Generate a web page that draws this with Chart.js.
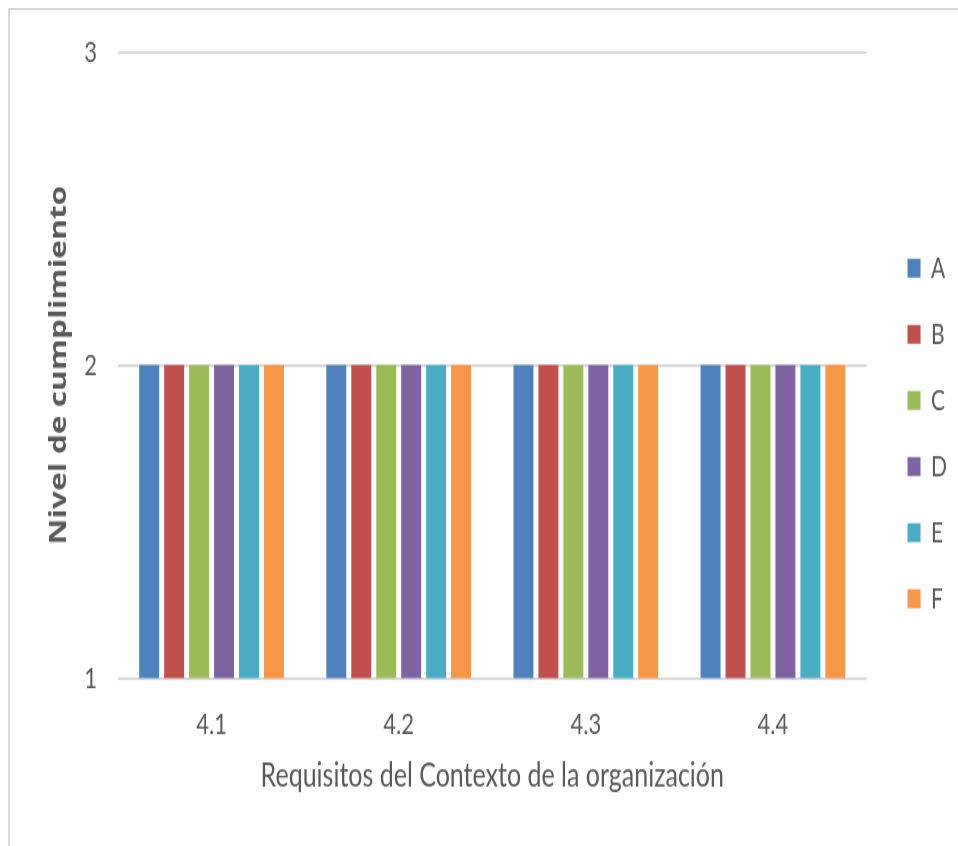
<!DOCTYPE html>
<html><head><meta charset="utf-8">
<script src="https://cdn.jsdelivr.net/npm/chart.js@4/dist/chart.umd.min.js"></script>
<style>
html,body{margin:0;padding:0;background:#fff;overflow:hidden}
#frame{position:absolute;left:8px;top:8px;width:1000px;height:900px;border-left:2px solid #d9d9d9;border-top:2px solid #d9d9d9}
</style></head><body>
<div id="frame"></div>
<canvas id="c" width="958" height="627" style="position:absolute;left:0;top:0;width:958px;height:846px"></canvas>
<script>
const categories = ['4.1', '4.2', '4.3', '4.4'];
const seriesNames = ['A', 'B', 'C', 'D', 'E', 'F'];
const seriesA = [2, 2, 2, 2];
const seriesB = [2, 2, 2, 2];
const seriesC = [2, 2, 2, 2];
const seriesD = [2, 2, 2, 2];
const seriesE = [2, 2, 2, 2];
const seriesF = [2, 2, 2, 2];
const seriesColors = ['#4F81BD', '#C0504D', '#9BBB59', '#8064A2', '#4BACC6', '#F79646'];
const yMin = 1, yMax = 3, yStep = 1;
const xTitle = 'Requisitos del Contexto de la organización';
const yTitle = 'Nivel de cumplimiento';

const sans = "Lato, 'Open Sans', sans-serif";
const textColor = '#595959';
const allSeries = [seriesA, seriesB, seriesC, seriesD, seriesE, seriesF];

new Chart(document.getElementById('c'), {
  type: 'bar',
  data: {
    labels: categories,
    datasets: allSeries.map((vals, i) => ({
      label: seriesNames[i],
      data: vals,
      backgroundColor: seriesColors[i],
      borderWidth: 0,
      barPercentage: 0.8,
      categoryPercentage: 0.8
    }))
  },
  options: {
    responsive: false,
    animation: false,
    layout: { padding: { top: 38.5, right: 1, bottom: 23, left: 10 } },
    plugins: {
      tooltip: { enabled: false },
      legend: {
        position: 'right',
        align: 'center',
        labels: {
          boxWidth: 13,
          boxHeight: 14,
          padding: 28,
          color: textColor,
          font: { family: sans, size: 21 }
        }
      }
    },
    scales: {
      x: {
        grid: { display: false, drawTicks: false },
        border: { display: false },
        ticks: { color: textColor, font: { family: sans, size: 22 }, padding: 21 },
        title: {
          display: true, text: xTitle, color: textColor,
          font: { family: sans, size: 25 }, padding: { top: 0, bottom: 14.5 }
        },
        afterFit: s => { s.height = 101.5; }
      },
      y: {
        min: yMin, max: yMax,
        grid: { color: '#d9d9d9', lineWidth: 2, drawTicks: false },
        border: { display: false },
        ticks: { stepSize: yStep, color: textColor, font: { family: sans, size: 22 }, padding: 21 },
        title: {
          display: true, text: yTitle, color: textColor,
          font: { family: "'Open Sans', sans-serif", size: 23.5, weight: 'bold' }, padding: { top: 35, bottom: 0 }
        },
        afterFit: s => { s.width = 108; }
      },
      gap: {
        position: 'right',
        display: true,
        grid: { display: false, drawTicks: false },
        border: { display: false },
        ticks: { display: false },
        afterFit: s => { s.width = 13; }
      }
    }
  }
});
</script>
</body></html>
